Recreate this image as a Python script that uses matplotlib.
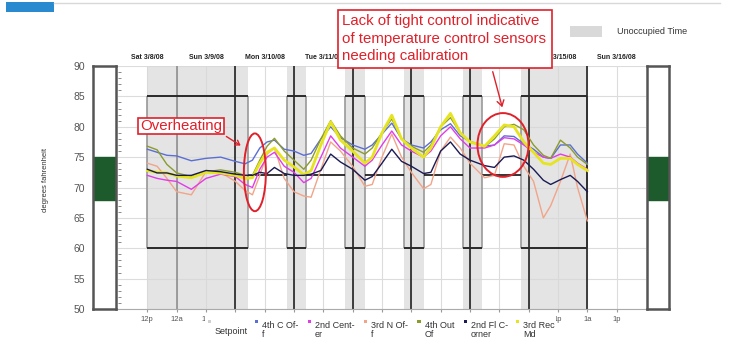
import numpy as np
import matplotlib.pyplot as plt
from matplotlib.patches import Rectangle, Ellipse, FancyArrowPatch

plt.rcParams['font.family'] = ['Liberation Sans', 'DejaVu Sans']

W, H = 730, 349

# hours counted from Sat 3/8/08 00:00
hours = [12, 16, 20, 24, 30, 36, 42, 48, 52, 55, 58, 61, 64, 68, 72, 76, 79, 83, 87, 91,
         96, 101, 104, 108, 112, 116, 120, 125, 128, 132, 136, 140, 144, 150, 154, 158,
         162, 166, 170, 174, 177, 181, 185, 188, 192]

fourth_c_off = [76.3, 75.8, 75.3, 75.2, 74.4, 74.8, 75.0, 74.3, 73.9, 74.5, 76.5, 77.5, 77.8, 76.3, 76.0,
                75.3, 75.6, 78.0, 80.0, 78.2, 77.0, 76.3, 77.0, 78.8, 80.6, 78.0, 77.0, 76.5, 77.5, 79.5,
                80.5, 78.5, 77.6, 76.8, 77.0, 78.5, 78.4, 77.2, 76.3, 75.0, 74.8, 77.0, 77.0, 75.5, 74.0]
second_center = [72.0, 71.5, 71.2, 71.0, 69.7, 71.5, 72.2, 71.8, 70.5, 70.0, 73.0, 75.0, 75.8, 73.5, 72.5,
                 70.8, 71.5, 75.0, 78.5, 76.5, 75.0, 73.5, 74.5, 77.0, 79.3, 77.0, 76.0, 75.0, 76.0, 78.5,
                 80.0, 78.0, 76.5, 76.5, 77.0, 78.2, 78.0, 77.0, 75.8, 75.0, 74.8, 75.5, 75.0, 74.0, 73.0]
third_n_off = [74.0, 73.5, 71.5, 69.3, 68.8, 72.6, 72.5, 71.0, 69.5, 68.8, 72.0, 75.5, 76.5, 71.5, 69.3,
               68.6, 68.4, 73.0, 77.5, 76.0, 73.5, 70.2, 70.5, 75.0, 78.8, 75.0, 72.5, 69.8, 70.5, 76.0,
               78.3, 76.5, 74.0, 71.6, 72.0, 77.2, 77.0, 73.5, 71.0, 65.0, 67.0, 71.0, 75.5, 70.0, 64.5]
fourth_out_of = [76.8, 76.2, 73.8, 72.4, 71.8, 72.6, 72.9, 72.5, 72.0, 72.0, 74.5, 76.8, 78.1, 76.0, 74.5,
                 73.0, 74.5, 78.0, 81.0, 78.5, 76.5, 75.5, 76.5, 79.0, 81.3, 78.0, 76.8, 75.8, 77.0, 80.0,
                 81.5, 79.0, 77.5, 76.7, 78.0, 80.0, 80.4, 79.5, 77.0, 75.3, 74.8, 77.8, 76.5, 75.0, 73.8]
second_fl_corner = [73.0, 72.4, 72.4, 72.0, 72.0, 72.8, 72.6, 72.2, 72.0, 72.0, 72.5, 72.3, 73.3, 72.3, 72.0,
                    72.0, 72.2, 72.8, 75.5, 74.2, 73.0, 71.2, 71.8, 74.0, 76.3, 74.3, 73.5, 72.3, 72.5, 76.0,
                    77.5, 75.5, 74.5, 73.6, 73.3, 75.0, 75.2, 74.5, 73.0, 71.2, 70.5, 71.3, 72.0, 71.0, 69.3]
third_rec_md = [72.8, 72.5, 72.4, 71.9, 71.6, 72.5, 72.4, 72.0, 71.5, 71.6, 74.0, 75.8, 76.5, 74.5, 73.4,
                72.1, 72.8, 77.0, 80.8, 77.8, 76.0, 74.0, 75.0, 79.0, 81.9, 78.0, 76.5, 75.0, 76.5, 80.0,
                82.2, 79.0, 77.5, 76.8, 78.5, 80.3, 80.0, 77.5, 75.8, 74.0, 73.8, 74.8, 74.8, 73.8, 72.8]

series = [fourth_c_off, second_center, third_n_off, fourth_out_of, second_fl_corner, third_rec_md]
series_names = ["4th C Of-\nf", "2nd Cent-\ner", "3rd N Of-\nf", "4th Out\nOf", "2nd Fl C-\norner", "3rd Rec\nMd"]
series_colors = ['#5b6fd2', '#e23ce6', '#f2a488', '#8c9c2c', '#1a1a55', '#e6e41e']
series_widths = [1.0, 1.0, 1.0, 1.0, 1.0, 2.0]
draw_order = [2, 0, 1, 3, 5, 4]

# occupancy schedule (hours from Sat 00:00)
occ_start = [53, 77, 101, 125, 149]
occ_end = [69, 93, 117, 141, 165]
data_start, data_end = 12, 192
sp_occupied = 72
sp_unocc_high = 85
sp_unocc_low = 60
comfort_low, comfort_high = 68, 75

# Wed-Fri labels sit under the callout box in the original, so they are left blank
day_labels = ['Sat 3/8/08', 'Sun 3/9/08', 'Mon 3/10/08', 'Tue 3/11/08', '',
              '', '', 'Sat 3/15/08', 'Sun 3/16/08']
# labels from Mon to Sat morning are hidden by the legend strip
tick_hours = list(range(12, 216, 12))
tick_labels = ['12p', '12a', '1p'] + [''] * 11 + ['1p', '1a', '1p']

RED = '#e0202a'


def fx(x):
    return x / W


def fy(y):
    return 1 - y / H


fig = plt.figure(figsize=(W / 100, H / 100), dpi=100)
ax = fig.add_axes([fx(118), fy(309), (646 - 118) / W, (309 - 66) / H])
axl = fig.add_axes([fx(93), fy(309), 23 / W, (309 - 66) / H])
axr = fig.add_axes([fx(647), fy(309), 22 / W, (309 - 66) / H])

# side boxes with comfort band
for a in (axl, axr):
    a.set_xlim(0, 1)
    a.set_ylim(50, 90)
    a.axhspan(comfort_low, comfort_high, color='#1d5a2c')
    a.set_xticks([])
    for s in a.spines.values():
        s.set_color('#555555')
        s.set_linewidth(1.8)
axl.set_yticks(range(50, 91, 5))
axl.tick_params(axis='y', length=0, pad=6, labelsize=7.5, labelcolor='#555555')
axl.set_ylabel('degrees fahrenheit', fontsize=5.5, color='#333333')
axl.yaxis.set_label_coords(-1.9, 0.53)
axr.set_yticks([])

# main plot
ax.set_xlim(0, 216)
ax.set_ylim(50, 90)
ax.set_axisbelow(True)
ax.set_yticks(range(50, 91, 5))
ax.set_yticks(range(50, 91, 1), minor=True)
ax.tick_params(axis='y', which='major', length=0, labelleft=False)
ax.tick_params(axis='y', which='minor', length=2, direction='in', color='#777777')
ax.set_xticks(tick_hours)
ax.set_xticklabels(tick_labels)
ax.tick_params(axis='x', length=2, pad=3, labelsize=5.5, labelcolor='#555555', color='#999999')
ax.grid(True, color='#dcdcdc', lw=0.8)
for s in ['top', 'right', 'left']:
    ax.spines[s].set_visible(False)
ax.spines['bottom'].set_color('#aaaaaa')

unocc = list(zip([data_start] + occ_end, occ_start + [data_end]))
for a, b in unocc:
    ax.axvspan(a, b, color='#d9d9d9', alpha=0.7, lw=0, zorder=1)
    ax.hlines([sp_unocc_high, sp_unocc_low], a, b, color='#2a2a2a', lw=1.4, zorder=3)
    ax.vlines([a, b], sp_unocc_low, sp_unocc_high, color='#999999', lw=1.2, zorder=2)
for a, b in zip(occ_start, occ_end):
    ax.hlines(sp_occupied, a, b, color='#111111', lw=1.2, zorder=3)

for i, h in enumerate(range(24, 193, 24)):
    ax.axvline(h, color='#888888' if i == 0 else '#111111', lw=1.1, zorder=2)

for i in draw_order:
    ax.plot(hours, series[i], color=series_colors[i], lw=series_widths[i], zorder=4)

for i, lab in enumerate(day_labels):
    if lab:
        ax.text(12 + 24 * i, 1.022, lab, transform=ax.get_xaxis_transform(), ha='center',
                va='bottom', fontsize=5, fontweight='bold', color='#222222')

# legend strip at the bottom (covers the middle tick labels)
fig.add_artist(Rectangle((fx(205), 0), (556 - 205) / W, fy(313), transform=fig.transFigure,
                         fc='white', ec='none', zorder=5))
leg_x = [209, 256, 309, 365, 419, 465, 517]
leg_labels = ['Setpoint'] + series_names
leg_colors = ['#d0d0d0'] + series_colors
for x, lab, c in zip(leg_x, leg_labels, leg_colors):
    fig.add_artist(Rectangle((fx(x - 1.5), fy(322.5)), 3 / W, 3 / H, transform=fig.transFigure,
                             fc=c, ec='none', zorder=6))
    if '\n' in lab:
        fig.text(fx(x + 6), fy(321), lab, ha='left', va='top', fontsize=6.5,
                 color='#333333', linespacing=0.95, zorder=6)
    else:
        fig.text(fx(x + 6), fy(331), lab, ha='left', va='center', fontsize=6.5,
                 color='#333333', zorder=6)

# unoccupied legend
fig.add_artist(Rectangle((fx(570), fy(37)), 32 / W, 11 / H, transform=fig.transFigure,
                         fc='#d9d9d9', ec='none'))
fig.text(fx(617), fy(31.5), 'Unoccupied Time', ha='left', va='center', fontsize=6.5, color='#333333')

# header decoration
fig.add_artist(Rectangle((fx(6), fy(12)), 48 / W, 10 / H, transform=fig.transFigure,
                         fc='#2a8ad0', ec='none'))
fig.add_artist(plt.Line2D([fx(54), fx(720)], [fy(3), fy(3)], transform=fig.transFigure,
                          color='#d8d8d8', lw=1))

# annotations
fig.add_artist(Rectangle((fx(138), fy(134)), 86 / W, 16 / H, transform=fig.transFigure,
                         fc='white', ec=RED, lw=1.2, zorder=6))
fig.text(fx(181), fy(126), 'Overheating', ha='center', va='center', fontsize=10.8,
         color=RED, zorder=7)
fig.add_artist(FancyArrowPatch((fx(224), fy(135)), (fx(243), fy(147)), transform=fig.transFigure,
                               arrowstyle='->,head_length=3,head_width=2', color=RED, lw=1.0,
                               zorder=7))
ax.add_patch(Ellipse((56, 72.5), 9, 12.8, fill=False, ec=RED, lw=1.4, zorder=6, clip_on=False))

fig.add_artist(Rectangle((fx(338), fy(68)), (552 - 338) / W, 58 / H, transform=fig.transFigure,
                         fc='white', ec=RED, lw=1.2, zorder=6))
callout = ['Lack of tight control indicative', 'of temperature control sensors', 'needing calibration']
for k, line in enumerate(callout):
    fig.text(fx(342), fy(25 + 17.5 * k), line, ha='left', va='baseline', fontsize=10.8,
             color=RED, zorder=7)
fig.add_artist(FancyArrowPatch((fx(492), fy(69)), (fx(503), fy(110)), transform=fig.transFigure,
                               arrowstyle='->,head_length=4,head_width=2.5', color=RED, lw=1.0,
                               zorder=7))
ax.add_patch(Ellipse((157.5, 77.0), 20.9, 10.5, fill=False, ec=RED, lw=1.4, zorder=6, clip_on=False))

fig.savefig('out.png', dpi=100)
